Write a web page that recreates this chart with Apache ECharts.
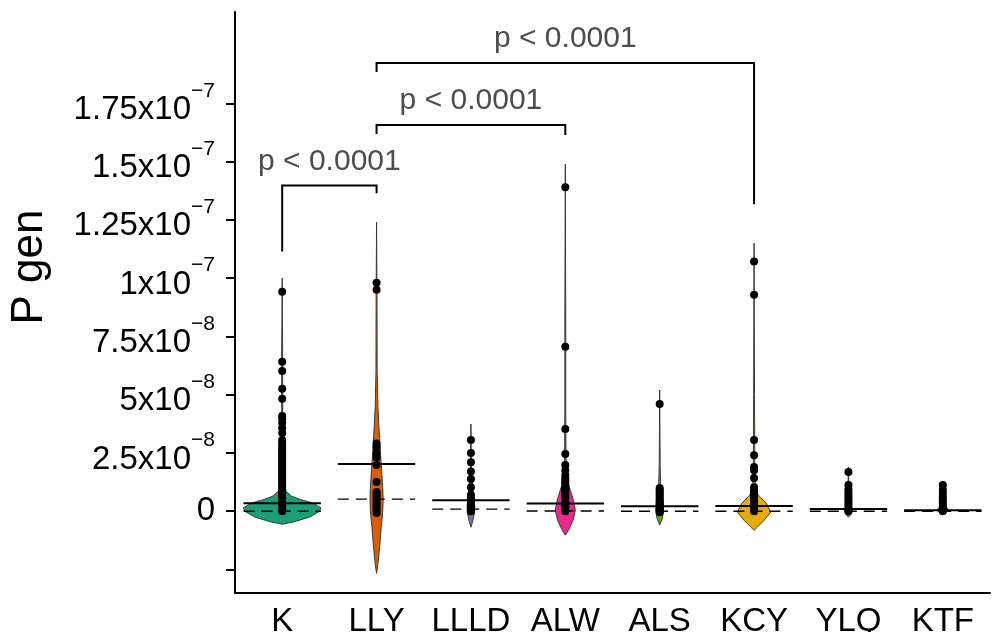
<!DOCTYPE html>
<html lang="en">
<head>
<meta charset="UTF-8">
<title>P gen</title>
<style>
body, div {
	margin: 0;
	padding: 0;
}
#chart {
	width: 998px;
	height: 632px;
}
</style>
</head>
<body>
<div id="chart"></div>
<script src="https://cdn.jsdelivr.net/npm/echarts/dist/echarts.min.js"></script>
<script>
// all values are in units of 1e-8
var groups = ['K', 'LLY', 'LLLD', 'ALW', 'ALS', 'KCY', 'YLQ', 'KTF'];
var colors = ['#1B9E77', '#D95F02', '#7570B3', '#E7298A', '#66A61E', '#E6AB02', '#A6761D', '#666666'];

var yTicks = [-2.5, 0, 2.5, 5, 7.5, 10, 12.5, 15, 17.5];
var yLabels = [0, 2.5, 5, 7.5, 10, 12.5, 15, 17.5];

var means = [0.34, 2.02, 0.47, 0.33, 0.21, 0.22, 0.09, 0.04];
var medians = [0, 0.52, 0.09, 0.01, 0, 0, 0, 0];

// violin outline: [value, relative half width]
var violinK = [[-0.56, 0], [-0.45, 0.32], [-0.25, 0.71], [0, 0.97], [0.15, 1], [0.35, 0.79], [0.5, 0.47], [0.65, 0.24], [0.85, 0.1], [1.2, 0.04], [2, 0.015], [7, 0.012], [10, 0]];
var violinLLY = [[-2.67, 0], [-2.2, 0.04], [-1.5, 0.08], [-0.7, 0.12], [0, 0.16], [0.5, 0.17], [1, 0.16], [1.8, 0.13], [2.5, 0.1], [3.5, 0.065], [4.5, 0.035], [6, 0.015], [9, 0.012], [12.4, 0]];
var violinLLLD = [[-0.69, 0], [-0.4, 0.05], [-0.1, 0.09], [0.2, 0.1], [0.6, 0.08], [1, 0.05], [1.5, 0.02], [2.2, 0.012], [3.74, 0]];
var violinALW = [[-1.03, 0], [-0.82, 0.08], [-0.39, 0.2], [0.04, 0.26], [0.47, 0.21], [0.9, 0.13], [1.33, 0.05], [2, 0.02], [4, 0.012], [8, 0.012], [14.9, 0]];
var violinALS = [[-0.6, 0], [-0.3, 0.07], [0, 0.1], [0.4, 0.09], [0.8, 0.05], [1.2, 0.025], [2, 0.012], [5.2, 0]];
var violinKCY = [[-0.82, 0], [-0.69, 0.08], [-0.39, 0.26], [-0.04, 0.43], [0.34, 0.32], [0.6, 0.16], [0.82, 0.05], [1.5, 0.02], [5, 0.012], [11.5, 0]];
var violinYLQ = [[-0.26, 0], [-0.1, 0.08], [0.05, 0.1], [0.3, 0.05], [0.6, 0.02], [1.9, 0]];
var violinKTF = [[-0.13, 0], [-0.05, 0.1], [0.05, 0.15], [0.2, 0.08], [0.5, 0.02], [1.2, 0]];

var pointsK = [9.42, 6.41, 6.02, 5.25, 4.82, 4.09, 3.98, 3.79, 3.57, 3.36, 3.05, 2.93, 2.8, 2.7, 2.6, 2.5, 2.4, 2.3, 2.2, 2.1, 2.0, 1.9, 1.8, 1.7, 1.6, 1.5, 1.4, 1.3, 1.2, 1.1, 1.0, 0.9, 0.8, 0.7, 0.6, 0.5, 0.4, 0.3, 0.2, 0.1, 0.05, 0];
var pointsLLY = [9.8, 9.5, 2.9, 2.75, 2.5, 2.3, 1.98, 1.25, 0.82, 0.72, 0.62, 0.52, 0.42, 0.32, 0.22, 0.12, 0.02, -0.08];
var pointsLLLD = [3.05, 2.5, 2.1, 1.7, 1.38, 1.03, 0.69, 0.55, 0.45, 0.35, 0.25, 0.15, 0.05, 0];
var pointsALW = [13.9, 7.06, 3.53, 2.45, 1.98, 1.76, 1.55, 1.4, 1.3, 1.2, 1.1, 1.0, 0.9, 0.8, 0.7, 0.6, 0.5, 0.4, 0.3, 0.2, 0.1, 0];
var pointsALS = [4.6, 1.0, 0.92, 0.84, 0.76, 0.68, 0.6, 0.52, 0.44, 0.36, 0.28, 0.2, 0.12, 0.04, -0.04];
var pointsKCY = [10.71, 9.29, 3.05, 2.4, 1.9, 1.76, 1.42, 1.03, 0.9, 0.8, 0.7, 0.6, 0.5, 0.4, 0.3, 0.2, 0.1, 0];
var pointsYLQ = [1.68, 1.12, 0.95, 0.82, 0.72, 0.62, 0.52, 0.42, 0.32, 0.22, 0.12, 0.04, 0];
var pointsKTF = [1.12, 0.92, 0.78, 0.64, 0.52, 0.42, 0.32, 0.22, 0.12, 0.05, 0];

// [from, to, bracket top, left leg end, right leg end, label]
var comparisons = [
	['K', 'LLY', 13.98, 11.14, 13.64, 'p < 0.0001'],
	['LLY', 'ALW', 16.57, 16.18, 16.14, 'p < 0.0001'],
	['LLY', 'KCY', 19.23, 18.85, 13.17, 'p < 0.0001']
];

var violins = [violinK, violinLLY, violinLLLD, violinALW, violinALS, violinKCY, violinYLQ, violinKTF];
var points = [pointsK, pointsLLY, pointsLLLD, pointsALW, pointsALS, pointsKCY, pointsYLQ, pointsKTF];

var FONT = '"Liberation Sans", Arial, sans-serif';

var scatterData = [];
for (var g = 0; g < points.length; g++) {
	for (var p = 0; p < points[g].length; p++) {
		scatterData.push([g, points[g][p]]);
	}
}

function fmtY(v) {
	if (v === 0) return '0';
	if (v >= 10) return '{m|' + parseFloat((v / 10).toFixed(3)) + 'x10}{s|\u22127}';
	return '{m|' + v + 'x10}{s|\u22128}';
}

function renderViolin(params, api) {
	var i = api.value(0);
	var prof = violins[i];
	var half = api.size([1, 0])[0] * 0.41;
	var right = [], left = [];
	for (var k = 0; k < prof.length; k++) {
		var c = api.coord([i, prof[k][0]]);
		right.push([c[0] + prof[k][1] * half, c[1]]);
		left.unshift([c[0] - prof[k][1] * half, c[1]]);
	}
	return {
		type: 'polygon',
		shape: { points: right.concat(left) },
		style: { fill: colors[i], stroke: '#3a3a3a', lineWidth: 1 }
	};
}

function lineRenderer(dash, width) {
	return function (params, api) {
		var c = api.coord([api.value(0), api.value(1)]);
		var half = api.size([1, 0])[0] * 0.41;
		return {
			type: 'line',
			shape: { x1: c[0] - half, y1: c[1], x2: c[0] + half, y2: c[1] },
			style: { stroke: '#000', lineWidth: width, lineDash: dash }
		};
	};
}

function renderBracket(params, api) {
	var cmp = comparisons[params.dataIndex];
	var a = groups.indexOf(cmp[0]), b = groups.indexOf(cmp[1]);
	var top1 = api.coord([a, cmp[2]]), top2 = api.coord([b, cmp[2]]);
	var l = api.coord([a, cmp[3]]), r = api.coord([b, cmp[4]]);
	return {
		type: 'group',
		children: [{
			type: 'polyline',
			shape: { points: [[l[0], l[1]], [top1[0], top1[1]], [top2[0], top2[1]], [r[0], r[1]]] },
			style: { stroke: '#000', lineWidth: 2, fill: null }
		}, {
			type: 'text',
			x: (top1[0] + top2[0]) / 2,
			y: top1[1] - 24,
			style: {
				text: cmp[5], fill: '#4d4d4d', fontSize: 30, fontFamily: FONT,
				align: 'center', verticalAlign: 'middle'
			}
		}]
	};
}

var chart = echarts.init(document.getElementById('chart'));
chart.setOption({
	animation: false,
	grid: { left: 235, right: 8, top: 12, bottom: 39, outerBoundsMode: 'none', containLabel: false },
	graphic: [{
		type: 'text',
		x: 30,
		y: 267,
		rotation: Math.PI / 2,
		style: {
			text: 'P gen', fontSize: 44, fontFamily: FONT, fill: '#000',
			align: 'center', verticalAlign: 'middle'
		}
	}],
	xAxis: {
		type: 'category',
		data: groups,
		axisLine: { onZero: false, lineStyle: { color: '#000', width: 2 } },
		axisTick: { length: 9, alignWithLabel: true, lineStyle: { color: '#000', width: 2 } },
		axisLabel: { interval: 0, color: '#000', fontSize: 33, fontFamily: FONT, margin: 12 },
		splitLine: { show: false }
	},
	yAxis: {
		type: 'value',
		min: -3.51,
		max: 21.42,
		axisLine: { show: true, lineStyle: { color: '#000', width: 2 } },
		axisTick: { show: true, length: 9, customValues: yTicks, lineStyle: { color: '#000', width: 2 } },
		axisLabel: {
			customValues: yLabels,
			formatter: fmtY,
			margin: 20,
			color: '#000',
			fontSize: 33,
			fontFamily: FONT,
			rich: {
				m: { fontSize: 33, fontFamily: FONT, color: '#000', verticalAlign: 'bottom' },
				s: { fontSize: 21, fontFamily: FONT, color: '#000', verticalAlign: 'bottom', padding: [0, 0, 25, 0] }
			}
		},
		splitLine: { show: false }
	},
	series: [{
		type: 'custom',
		renderItem: renderViolin,
		data: groups.map(function (g, i) { return [i, 0]; }),
		z: 2
	}, {
		type: 'scatter',
		data: scatterData,
		symbolSize: 8,
		itemStyle: { color: '#000', opacity: 1 },
		z: 3
	}, {
		type: 'custom',
		renderItem: lineRenderer(null, 2),
		data: means.map(function (m, i) { return [i, m]; }),
		z: 4
	}, {
		type: 'custom',
		renderItem: lineRenderer([11, 7], 1.4),
		data: medians.map(function (m, i) { return [i, m]; }),
		z: 4
	}, {
		type: 'custom',
		renderItem: renderBracket,
		data: comparisons.map(function (c) { return [groups.indexOf(c[0]), c[2]]; }),
		z: 5
	}]
});
</script>
</body>
</html>
